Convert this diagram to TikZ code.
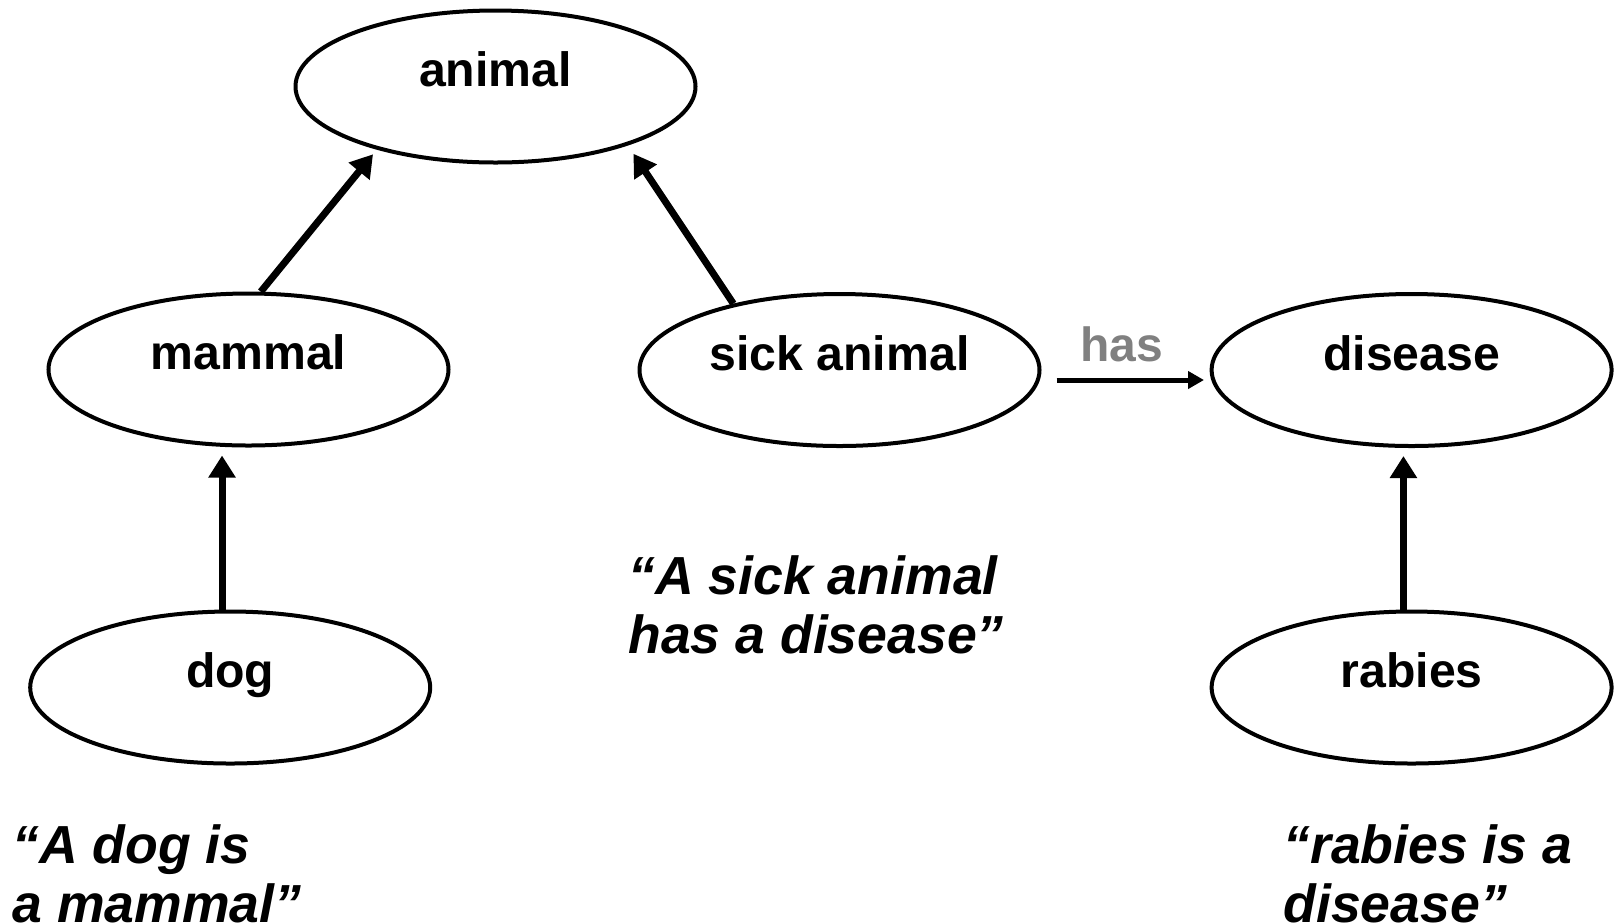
\documentclass[tikz,border=0pt]{standalone}
\usepackage{fontspec}
\setmainfont{Liberation Sans}
\usetikzlibrary{arrows.meta,shapes.geometric}
\definecolor{hasgray}{RGB}{128,128,128}
\begin{document}
\begin{tikzpicture}[x=0.5pt,y=-0.5pt,
  concept/.style={draw, ellipse, line width=2pt, minimum width=200pt, minimum height=76pt,
    inner sep=0pt, font=\bfseries\fontsize{24.1}{28}\selectfont, text height=18pt, text depth=18pt},
  isa/.style={-{Triangle[length=11pt,width=13pt]}, line width=3.5pt},
  hasarrow/.style={-{Triangle[length=8pt,width=8.5pt]}, line width=2.5pt},
  quote/.style={anchor=base west, align=left, inner sep=0pt,
    font=\bfseries\itshape\fontsize{26.8}{29.5}\selectfont},
  rel/.style={anchor=base, inner sep=0pt, text=hasgray, font=\bfseries\fontsize{24}{28}\selectfont}]
\useasboundingbox (0,0) rectangle (1615,923);

\node[concept] (animal)  at (495.5,86.5) {animal};
\node[concept] (mammal)  at (248.5,369.5) {mammal};
\node[concept] (sick)    at (839.5,370) {sick animal};
\node[concept] (disease) at (1411.6,370) {disease};
\node[concept] (dog)     at (230.2,687.5) {dog};
\node[concept] (rabies)  at (1411.6,687.5) {rabies};

\draw[isa, shorten >=3pt] (mammal.81) -- (animal.208);
\draw[isa, shorten >=5pt] (sick.148) -- (animal.336);
\draw[isa, shorten >=4pt] (dog.96.5) -- (dog.96.5 |- mammal.south);
\draw[isa, shorten >=4pt] (rabies.96) -- (rabies.96 |- disease.south);
\draw[hasarrow, shorten <=7.5pt, shorten >=2.8pt] ([yshift=-5pt]sick.east) -- ([yshift=-5pt]disease.west);

\node[rel] (has) at (1121.7,361.5) {has};

\node[quote] (q1) at (12,922) {``A dog is\\a mammal''};
\node[quote] (q2) at (628,653) {``A sick animal\\has a disease''};
\node[quote] (q3) at (1283,922) {``rabies is a\\disease''};
\end{tikzpicture}
\end{document}
